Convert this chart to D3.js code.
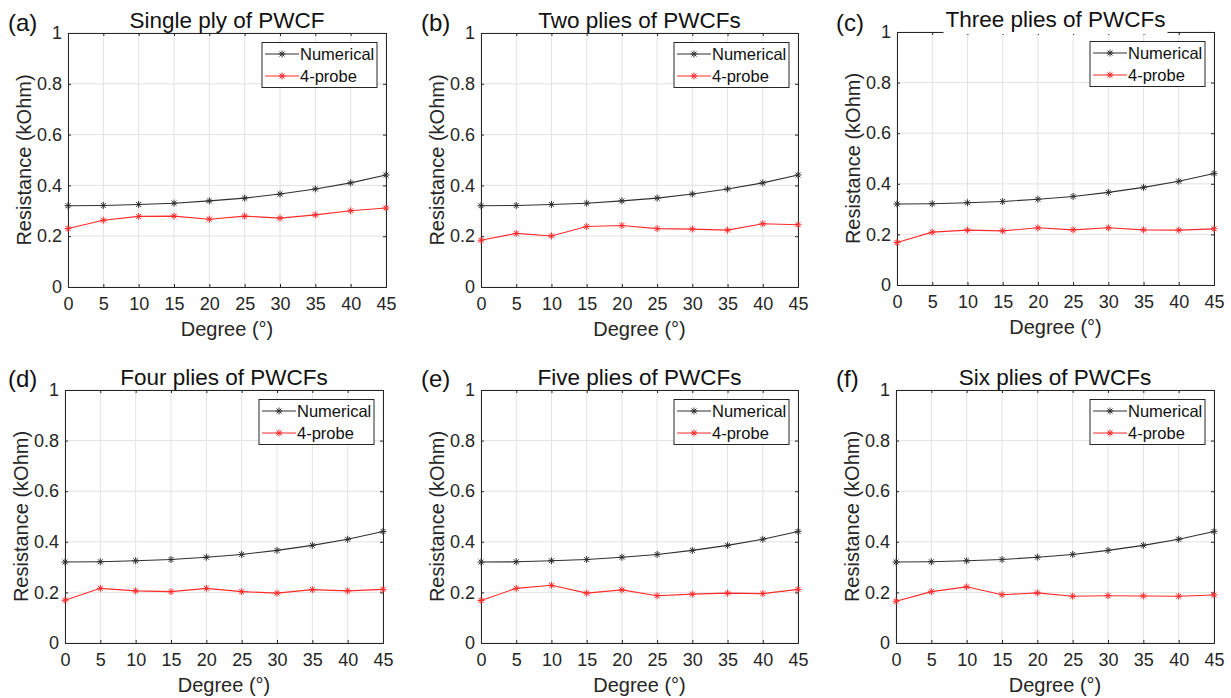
<!DOCTYPE html>
<html>
<head>
<meta charset="utf-8">
<script src="https://cdn.jsdelivr.net/npm/d3@7"></script>
<style>
  body { margin: 0; background: #fff; }
  svg { display: block; font-family: "Liberation Sans", Arial, sans-serif; }
</style>
</head>
<body>
<div id="chart"></div>
<script>
// data
var degrees = [0, 5, 10, 15, 20, 25, 30, 35, 40, 45];
var numerical = [0.320, 0.321, 0.325, 0.330, 0.339, 0.350, 0.366, 0.386, 0.410, 0.441];
var probeA = [0.230, 0.263, 0.278, 0.279, 0.267, 0.279, 0.271, 0.284, 0.300, 0.311];
var probeB = [0.184, 0.211, 0.201, 0.238, 0.242, 0.230, 0.228, 0.224, 0.249, 0.245];
var probeC = [0.168, 0.209, 0.217, 0.214, 0.226, 0.218, 0.226, 0.218, 0.217, 0.222];
var probeD = [0.169, 0.216, 0.206, 0.203, 0.216, 0.203, 0.197, 0.211, 0.206, 0.212];
var probeE = [0.168, 0.216, 0.228, 0.197, 0.210, 0.187, 0.193, 0.197, 0.195, 0.212];
var probeF = [0.165, 0.203, 0.222, 0.191, 0.198, 0.185, 0.187, 0.186, 0.185, 0.190];
var titles = ["Single ply of PWCF", "Two plies of PWCFs", "Three plies of PWCFs",
              "Four plies of PWCFs", "Five plies of PWCFs", "Six plies of PWCFs"];
var tags = ["(a)", "(b)", "(c)", "(d)", "(e)", "(f)"];
var yTicks = [0, 0.2, 0.4, 0.6, 0.8, 1];
var seriesNames = ["Numerical", "4-probe"];
var probes = [probeA, probeB, probeC, probeD, probeE, probeF];

// plot boxes (left, right, top, bottom) and tag positions
var boxes = [
  {l: 68, r: 386, t: 33, b: 287, tx: 8, ty: 31},
  {l: 481, r: 798, t: 33, b: 287, tx: 421, ty: 31},
  {l: 897, r: 1214, t: 32, b: 285, tx: 836, ty: 31},
  {l: 65, r: 383, t: 390, b: 643, tx: 8, ty: 387},
  {l: 481, r: 798, t: 390, b: 643, tx: 421, ty: 387},
  {l: 896, r: 1214, t: 390, b: 643, tx: 836, ty: 387}
];

var ink = "#262626", gridCol = "#e3e3e3";
var colors = ["#303030", "#ff2a2a"];

var svg = d3.select("#chart").append("svg")
  .attr("width", 1231)
  .attr("height", 698);

function asterisk(r) {
  var d = r * 0.7071;
  return "M" + (-r) + ",0H" + r + "M0," + (-r) + "V" + r +
    "M" + (-d) + "," + (-d) + "L" + d + "," + d +
    "M" + (-d) + "," + d + "L" + d + "," + (-d);
}

boxes.forEach(function(bx, i) {
  var x = d3.scaleLinear().domain([0, 45]).range([bx.l, bx.r]);
  var y = d3.scaleLinear().domain([0, 1]).range([bx.b, bx.t]);
  var g = svg.append("g");

  // grid
  g.selectAll(".gx").data(degrees).enter().append("line")
    .attr("x1", function(d) { return x(d); }).attr("x2", function(d) { return x(d); })
    .attr("y1", bx.t).attr("y2", bx.b)
    .attr("stroke", gridCol).attr("stroke-width", 1);
  g.selectAll(".gy").data(yTicks).enter().append("line")
    .attr("y1", function(d) { return y(d); }).attr("y2", function(d) { return y(d); })
    .attr("x1", bx.l).attr("x2", bx.r)
    .attr("stroke", gridCol).attr("stroke-width", 1);

  // axes with inward ticks on all sides
  var xAxB = d3.axisBottom(x).tickValues(degrees).tickSize(-3).tickPadding(10);
  var xAxT = d3.axisTop(x).tickValues(degrees).tickSize(-3).tickFormat("");
  var yAxL = d3.axisLeft(y).tickValues(yTicks).tickSize(-3).tickPadding(6).tickFormat(d3.format("~g"));
  var yAxR = d3.axisRight(y).tickValues(yTicks).tickSize(-3).tickFormat("");

  var axes = [
    g.append("g").attr("transform", "translate(0," + bx.b + ")").call(xAxB),
    g.append("g").attr("transform", "translate(0," + bx.t + ")").call(xAxT),
    g.append("g").attr("transform", "translate(" + bx.l + ",0)").call(yAxL),
    g.append("g").attr("transform", "translate(" + bx.r + ",0)").call(yAxR)
  ];
  axes.forEach(function(a) {
    a.select(".domain").attr("stroke", ink).attr("stroke-width", 1);
    a.selectAll(".tick line").attr("stroke", ink);
    a.selectAll("text").attr("fill", ink).style("font-size", "18px")
      .style("font-family", "'Liberation Sans', Arial, sans-serif");
  });

  // series
  var sets = [numerical, probes[i]];
  var line = d3.line()
    .x(function(d, k) { return x(degrees[k]); })
    .y(function(d) { return y(d); });
  sets.forEach(function(vals, s) {
    g.append("path").datum(vals)
      .attr("d", line)
      .attr("fill", "none")
      .attr("stroke", colors[s])
      .attr("stroke-width", 1.1);
    g.selectAll(".m" + s).data(vals).enter().append("path")
      .attr("transform", function(d, k) { return "translate(" + x(degrees[k]) + "," + y(d) + ")"; })
      .attr("d", asterisk(3.5))
      .attr("fill", "none")
      .attr("stroke", colors[s])
      .attr("stroke-width", 1);
  });

  // title
  var title = g.append("text")
    .attr("x", (bx.l + bx.r) / 2)
    .attr("y", bx.t - 5)
    .attr("text-anchor", "middle")
    .attr("fill", "#111")
    .style("font-size", "22.5px")
    .text(titles[i]);
  if (i === 2) {
    var bb = title.node().getBBox();
    g.insert("rect", function() { return title.node(); })
      .attr("x", bb.x - 2).attr("y", bb.y)
      .attr("width", bb.width + 4).attr("height", bx.t + 2 - bb.y)
      .attr("fill", "#fff");
  }

  // tag
  g.append("text")
    .attr("x", bx.tx).attr("y", bx.ty)
    .attr("fill", "#111")
    .style("font-size", "24px")
    .text(tags[i]);

  // axis labels
  g.append("text")
    .attr("x", (bx.l + bx.r) / 2).attr("y", bx.b + 49)
    .attr("text-anchor", "middle").attr("fill", ink)
    .style("font-size", "20px")
    .text("Degree (\u00b0)");
  g.append("text")
    .attr("transform", "translate(" + (bx.l - 44) + "," + ((bx.t + bx.b) / 2) + ") rotate(-90)")
    .attr("text-anchor", "middle").attr("dy", "0.35em").attr("fill", ink)
    .style("font-size", "20px")
    .text("Resistance (kOhm)");

  // legend
  var lw = 115, lh = 45;
  var lx = bx.r - 9 - lw, ly = bx.t + 9.5;
  var lg = g.append("g").attr("transform", "translate(" + lx + "," + ly + ")");
  lg.append("rect").attr("width", lw).attr("height", lh)
    .attr("fill", "#fff").attr("stroke", ink).attr("stroke-width", 1);
  seriesNames.forEach(function(name, s) {
    var ry = 11.5 + s * 22;
    lg.append("line").attr("x1", 3).attr("x2", 37).attr("y1", ry).attr("y2", ry)
      .attr("stroke", colors[s]).attr("stroke-width", 1);
    lg.append("path").attr("transform", "translate(20," + ry + ")")
      .attr("d", asterisk(3.5)).attr("fill", "none")
      .attr("stroke", colors[s]).attr("stroke-width", 1);
    lg.append("text").attr("x", 38).attr("y", ry).attr("dy", "0.35em")
      .attr("fill", "#111").style("font-size", "16.5px")
      .text(name);
  });
});
</script>
</body>
</html>
